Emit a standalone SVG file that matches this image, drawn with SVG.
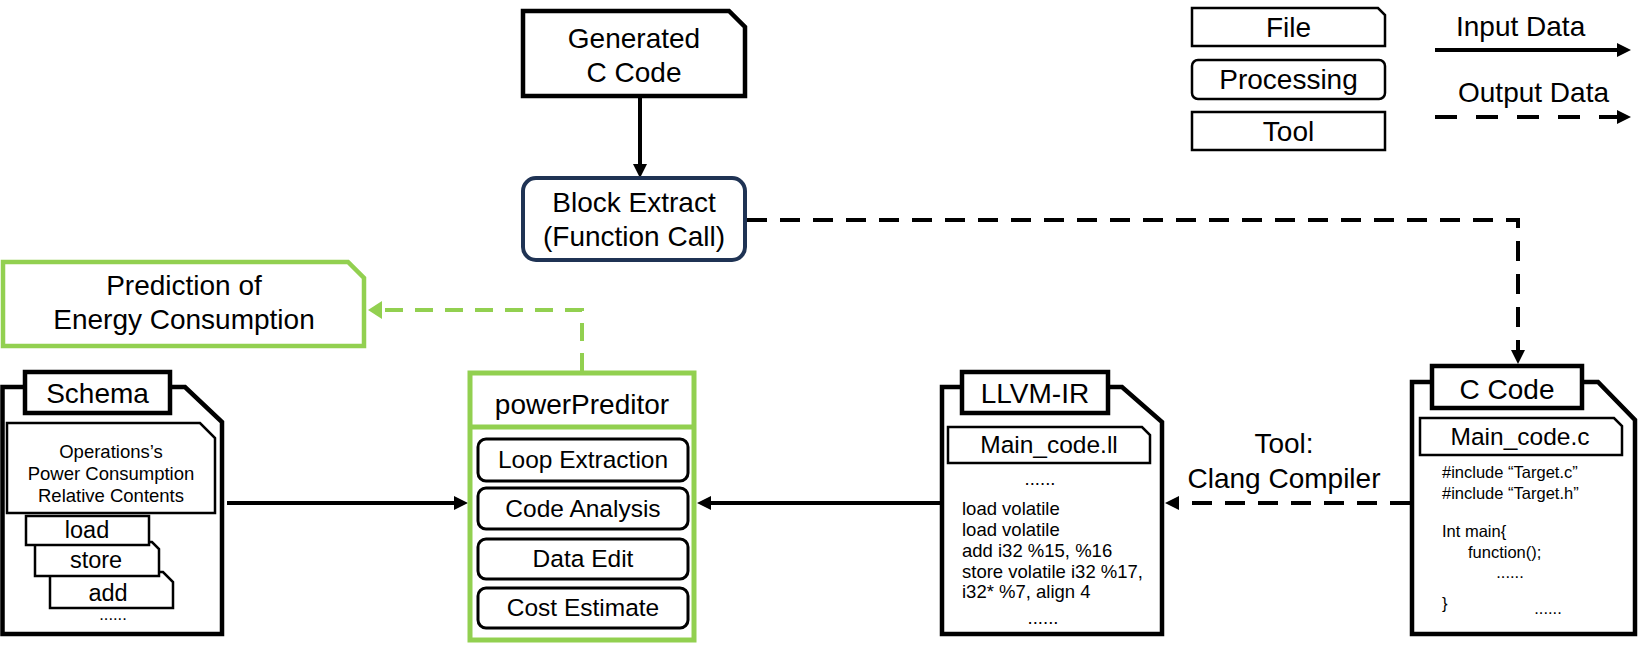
<svg xmlns="http://www.w3.org/2000/svg" width="1650" height="647" viewBox="0 0 1650 647">
<defs>
<style>
text{font-family:"Liberation Sans",Arial,sans-serif;fill:#000}
.t28{font-size:28px;text-anchor:middle}
.t24{font-size:24.5px;text-anchor:middle}
.t23{font-size:23.5px;text-anchor:middle}
.c18{font-size:18.5px}
.c16{font-size:16.5px}
.doc{fill:#fff;stroke:#000;stroke-width:4.5;stroke-linejoin:miter}
.thin{fill:#fff;stroke:#000;stroke-width:2.5}
.sub{fill:#fff;stroke:#000;stroke-width:3}
.green{fill:#fff;stroke:#92D050;stroke-width:4.5}
.solid{fill:none;stroke:#000;stroke-width:4}
.dash{fill:none;stroke:#000;stroke-width:4;stroke-dasharray:20 13}
.gdash{fill:none;stroke:#92D050;stroke-width:4;stroke-dasharray:18 12}
</style>
<marker id="ah" markerUnits="userSpaceOnUse" markerWidth="16" markerHeight="14" refX="4" refY="7" orient="auto">
<path d="M0,0 L14,7 L0,14 Z" fill="#000"/>
</marker>
<marker id="ahg" markerUnits="userSpaceOnUse" markerWidth="18" markerHeight="18" refX="4" refY="9" orient="auto">
<path d="M0,0 L14,9 L0,18 Z" fill="#92D050"/>
</marker>
</defs>
<rect width="1650" height="647" fill="#fff"/>

<g id="connectors">
<path class="solid" d="M640 97 V168" marker-end="url(#ah)"/>
<path class="solid" d="M227 503 H458" marker-end="url(#ah)"/>
<path class="solid" d="M940 503 H707" marker-end="url(#ah)"/>
<path class="dash" d="M1410 503 H1175" marker-end="url(#ah)"/>
<path class="dash" d="M747 220 H1518 V354" marker-end="url(#ah)"/>
<path class="gdash" d="M582 371 V310 H378" marker-end="url(#ahg)"/>
</g>

<g id="generated-c-code">
<path class="doc" d="M523 11 H729 L745 27 V96 H523 Z"/>
<text class="t28" x="634" y="48">Generated</text>
<text class="t28" x="634" y="82">C Code</text>
</g>

<g id="block-extract">
<rect x="523" y="178" width="222" height="82" rx="13" fill="#fff" stroke="#1F3354" stroke-width="4"/>
<text class="t28" x="634" y="212">Block Extract</text>
<text class="t28" x="634" y="246">(Function Call)</text>
</g>

<g id="prediction">
<path class="green" d="M3 262 H348 L364 278 V346 H3 Z"/>
<text class="t28" x="184" y="295">Prediction of</text>
<text class="t28" x="184" y="329">Energy Consumption</text>
</g>

<g id="schema">
<path class="doc" d="M2.5 387 H185 L222 422 V634 H2.5 Z"/>
<rect class="doc" x="25" y="372" width="145" height="41"/>
<text class="t28" x="97.5" y="403">Schema</text>
<path class="thin" d="M7 423 H200 L215 438 V513 H7 Z"/>
<text class="c18" x="111" y="458" text-anchor="middle">Operations’s</text>
<text class="c18" x="111" y="480" text-anchor="middle">Power Consumption</text>
<text class="c18" x="111" y="502" text-anchor="middle">Relative Contents</text>
<path class="thin" d="M50 572 H163 L173 582 V608 H50 Z"/>
<path class="thin" d="M35 542 H152 L159 549 V576 H35 Z"/>
<rect class="thin" x="26" y="516" width="123" height="29"/>
<text class="t23" x="87" y="538">load</text>
<text class="t23" x="96" y="568">store</text>
<text class="t23" x="108" y="601">add</text>
<text class="c16" x="113" y="620" text-anchor="middle">......</text>
</g>

<g id="powerpreditor">
<rect x="470" y="373" width="224" height="267" fill="#fff" stroke="#92D050" stroke-width="5"/>
<line x1="470" y1="427" x2="694" y2="427" stroke="#92D050" stroke-width="5"/>
<text class="t28" x="582" y="414">powerPreditor</text>
<rect class="sub" x="478" y="439" width="210" height="42" rx="8"/>
<text class="t24" x="583" y="468">Loop Extraction</text>
<rect class="sub" x="478" y="488" width="210" height="41" rx="8"/>
<text class="t24" x="583" y="517">Code Analysis</text>
<rect class="sub" x="478" y="539" width="210" height="40" rx="8"/>
<text class="t24" x="583" y="567">Data Edit</text>
<rect class="sub" x="478" y="588" width="210" height="40" rx="8"/>
<text class="t24" x="583" y="616">Cost Estimate</text>
</g>

<g id="llvm-ir">
<path class="doc" d="M942 387 H1122 L1162 422 V634 H942 Z"/>
<rect class="doc" x="962" y="372" width="146" height="41"/>
<text class="t28" x="1035" y="403">LLVM-IR</text>
<path class="thin" d="M948 427 H1142 L1150 435 V463 H948 Z"/>
<text class="t24" x="1049" y="453">Main_code.ll</text>
<text class="c18" x="1040" y="485" text-anchor="middle">......</text>
<text class="c18" x="962" y="515">load volatile</text>
<text class="c18" x="962" y="536">load volatile</text>
<text class="c18" x="962" y="557">add i32 %15, %16</text>
<text class="c18" x="962" y="578">store volatile i32 %17,</text>
<text class="c18" x="962" y="598">i32* %7, align 4</text>
<text class="c18" x="1043" y="624" text-anchor="middle">......</text>
</g>

<g id="tool-label">
<text class="t28" x="1284" y="453">Tool:</text>
<text class="t28" x="1284" y="488">Clang Compiler</text>
</g>

<g id="c-code">
<path class="doc" d="M1412 382 H1598 L1635 420 V634 H1412 Z"/>
<rect class="doc" x="1432" y="366" width="150" height="42"/>
<text class="t28" x="1507" y="399">C Code</text>
<path class="thin" d="M1420 418 H1614 L1622 426 V455 H1420 Z"/>
<text class="t24" x="1520" y="445">Main_code.c</text>
<text class="c16" x="1442" y="478">#include “Target.c”</text>
<text class="c16" x="1442" y="499">#include “Target.h”</text>
<text class="c16" x="1442" y="537">Int main{</text>
<text class="c16" x="1468" y="558">function();</text>
<text class="c16" x="1510" y="578" text-anchor="middle">......</text>
<text class="c16" x="1442" y="609">}</text>
<text class="c16" x="1548" y="614" text-anchor="middle">......</text>
</g>

<g id="legend">
<path class="thin" d="M1192 8 H1378 L1385 15 V46 H1192 Z"/>
<text class="t28" x="1288.5" y="37">File</text>
<rect class="thin" x="1192" y="60" width="193" height="39" rx="6"/>
<text class="t28" x="1288.5" y="89">Processing</text>
<rect class="thin" x="1192" y="112" width="193" height="38"/>
<text class="t28" x="1288.5" y="141">Tool</text>
<text x="1456" y="36" font-size="28">Input Data</text>
<path class="solid" d="M1435 50 H1621" marker-end="url(#ah)"/>
<text x="1458" y="102" font-size="28">Output Data</text>
<path class="dash" style="stroke-dasharray:22 19" d="M1435 117 H1621" marker-end="url(#ah)"/>
</g>
</svg>
